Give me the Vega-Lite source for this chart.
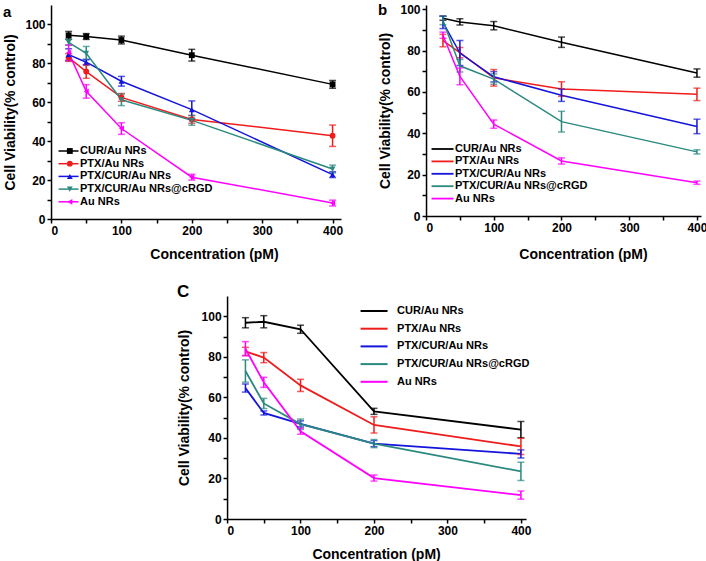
{
 "$schema": "https://vega.github.io/schema/vega-lite/v6.json",
 "background": "white",
 "padding": {"left": 3, "top": 3, "right": 0, "bottom": 0},
 "spacing": 22,
 "center": true,
 "resolve": {"scale": {"color": "independent", "shape": "independent"}, "legend": {"color": "independent", "shape": "independent"}},
 "config": {
  "font": "Liberation Sans",
  "view": {"stroke": null},
  "axis": {"domainColor": "black", "domainWidth": 1.5, "tickColor": "black", "tickWidth": 1.5, "tickSize": 4, "labelFont": "Liberation Sans", "labelFontWeight": "bold", "labelFontSize": 12, "labelColor": "black", "labelPadding": 2, "titleFont": "Liberation Sans", "titleFontWeight": "bold", "titleFontSize": 14, "titleColor": "black", "grid": false},
  "legend": {"padding": 0, "labelFont": "Liberation Sans", "labelFontWeight": "bold", "labelFontSize": 11, "labelColor": "black", "labelLimit": 300},
  "title": {"font": "Liberation Sans", "fontWeight": "bold", "color": "black", "fontSize": 15}
 },
 "datasets": {
  "a": [
   {"s": "CUR/Au NRs", "x": 25, "v": 94.4, "e": 2}, {"s": "CUR/Au NRs", "x": 50, "v": 93.8, "e": 1.5}, {"s": "CUR/Au NRs", "x": 100, "v": 92, "e": 2}, {"s": "CUR/Au NRs", "x": 200, "v": 84.2, "e": 3}, {"s": "CUR/Au NRs", "x": 400, "v": 69.2, "e": 2},
   {"s": "PTX/Au NRs", "x": 25, "v": 83, "e": 2}, {"s": "PTX/Au NRs", "x": 50, "v": 75.8, "e": 3.5}, {"s": "PTX/Au NRs", "x": 100, "v": 62.5, "e": 2}, {"s": "PTX/Au NRs", "x": 200, "v": 51.2, "e": 2}, {"s": "PTX/Au NRs", "x": 400, "v": 42.8, "e": 5.5},
   {"s": "PTX/CUR/Au NRs", "x": 25, "v": 84.5, "e": 3}, {"s": "PTX/CUR/Au NRs", "x": 50, "v": 80.6, "e": 1.5}, {"s": "PTX/CUR/Au NRs", "x": 100, "v": 70.8, "e": 2.5}, {"s": "PTX/CUR/Au NRs", "x": 200, "v": 56.2, "e": 4.5}, {"s": "PTX/CUR/Au NRs", "x": 400, "v": 22.8, "e": 1.5},
   {"s": "PTX/CUR/Au NRs@cRGD", "x": 25, "v": 90.8, "e": 1.5}, {"s": "PTX/CUR/Au NRs@cRGD", "x": 50, "v": 85.2, "e": 3.5}, {"s": "PTX/CUR/Au NRs@cRGD", "x": 100, "v": 61.3, "e": 3}, {"s": "PTX/CUR/Au NRs@cRGD", "x": 200, "v": 50.7, "e": 2.5}, {"s": "PTX/CUR/Au NRs@cRGD", "x": 400, "v": 25.7, "e": 2},
   {"s": "Au NRs", "x": 25, "v": 85.5, "e": 4}, {"s": "Au NRs", "x": 50, "v": 65.6, "e": 3.5}, {"s": "Au NRs", "x": 100, "v": 46.5, "e": 3}, {"s": "Au NRs", "x": 200, "v": 21.5, "e": 1.5}, {"s": "Au NRs", "x": 400, "v": 8.2, "e": 1.5}
  ],
  "b": [
   {"s": "CUR/Au NRs", "x": 25, "v": 95.6, "e": 1}, {"s": "CUR/Au NRs", "x": 50, "v": 93.8, "e": 1.5}, {"s": "CUR/Au NRs", "x": 100, "v": 92, "e": 2}, {"s": "CUR/Au NRs", "x": 200, "v": 84, "e": 2.5}, {"s": "CUR/Au NRs", "x": 400, "v": 69.1, "e": 2},
   {"s": "PTX/Au NRs", "x": 25, "v": 84.8, "e": 3}, {"s": "PTX/Au NRs", "x": 50, "v": 79, "e": 2.5}, {"s": "PTX/Au NRs", "x": 100, "v": 66.8, "e": 4}, {"s": "PTX/Au NRs", "x": 200, "v": 61.4, "e": 3.5}, {"s": "PTX/Au NRs", "x": 400, "v": 58.8, "e": 3},
   {"s": "PTX/CUR/Au NRs", "x": 25, "v": 93.6, "e": 3}, {"s": "PTX/CUR/Au NRs", "x": 50, "v": 78.8, "e": 6}, {"s": "PTX/CUR/Au NRs", "x": 100, "v": 67.3, "e": 2.5}, {"s": "PTX/CUR/Au NRs", "x": 200, "v": 58.4, "e": 3}, {"s": "PTX/CUR/Au NRs", "x": 400, "v": 43.3, "e": 3.5},
   {"s": "PTX/CUR/Au NRs@cRGD", "x": 25, "v": 94.5, "e": 2}, {"s": "PTX/CUR/Au NRs@cRGD", "x": 50, "v": 72.6, "e": 3}, {"s": "PTX/CUR/Au NRs@cRGD", "x": 100, "v": 66.2, "e": 2.5}, {"s": "PTX/CUR/Au NRs@cRGD", "x": 200, "v": 45.6, "e": 5}, {"s": "PTX/CUR/Au NRs@cRGD", "x": 400, "v": 31, "e": 1},
   {"s": "Au NRs", "x": 25, "v": 87.4, "e": 1.5}, {"s": "Au NRs", "x": 50, "v": 67.5, "e": 4}, {"s": "Au NRs", "x": 100, "v": 44.4, "e": 2}, {"s": "Au NRs", "x": 200, "v": 26.6, "e": 1.5}, {"s": "Au NRs", "x": 400, "v": 16.1, "e": 0.8}
  ],
  "c": [
   {"s": "CUR/Au NRs", "x": 25, "v": 96.8, "e": 2.5}, {"s": "CUR/Au NRs", "x": 50, "v": 97.3, "e": 3}, {"s": "CUR/Au NRs", "x": 100, "v": 93.6, "e": 2}, {"s": "CUR/Au NRs", "x": 200, "v": 53.1, "e": 1.5}, {"s": "CUR/Au NRs", "x": 400, "v": 44.1, "e": 4},
   {"s": "PTX/Au NRs", "x": 25, "v": 82.7, "e": 2}, {"s": "PTX/Au NRs", "x": 50, "v": 79.6, "e": 2.5}, {"s": "PTX/Au NRs", "x": 100, "v": 65.9, "e": 3}, {"s": "PTX/Au NRs", "x": 200, "v": 46.4, "e": 4}, {"s": "PTX/Au NRs", "x": 400, "v": 35.8, "e": 4},
   {"s": "PTX/CUR/Au NRs", "x": 25, "v": 64.6, "e": 2}, {"s": "PTX/CUR/Au NRs", "x": 50, "v": 52.3, "e": 1}, {"s": "PTX/CUR/Au NRs", "x": 100, "v": 46.9, "e": 1.5}, {"s": "PTX/CUR/Au NRs", "x": 200, "v": 37.2, "e": 1.5}, {"s": "PTX/CUR/Au NRs", "x": 400, "v": 32.1, "e": 2},
   {"s": "PTX/CUR/Au NRs@cRGD", "x": 25, "v": 73, "e": 5.5}, {"s": "PTX/CUR/Au NRs@cRGD", "x": 50, "v": 57, "e": 2.5}, {"s": "PTX/CUR/Au NRs@cRGD", "x": 100, "v": 46.8, "e": 2.5}, {"s": "PTX/CUR/Au NRs@cRGD", "x": 200, "v": 37.2, "e": 2}, {"s": "PTX/CUR/Au NRs@cRGD", "x": 400, "v": 23.5, "e": 4.5},
   {"s": "Au NRs", "x": 25, "v": 84, "e": 3.5}, {"s": "Au NRs", "x": 50, "v": 67.4, "e": 2.5}, {"s": "Au NRs", "x": 100, "v": 43.3, "e": 1.5}, {"s": "Au NRs", "x": 200, "v": 20.2, "e": 1.5}, {"s": "Au NRs", "x": 400, "v": 11.8, "e": 2}
  ]
 },
 "vconcat": [
  {
   "spacing": 34,
   "resolve": {"scale": {"color": "independent", "shape": "independent"}, "legend": {"color": "independent", "shape": "independent"}},
   "hconcat": [
    {
     "width": 290, "height": 214,
     "data": {"name": "a"},
     "title": {"text": "a", "anchor": "start", "frame": "bounds", "offset": -15},
     "encoding": {
      "x": {"field": "x", "type": "quantitative", "scale": {"domain": [0, 412], "nice": false}, "axis": {"values": [0, 50, 100, 150, 200, 250, 300, 350, 400], "labelExpr": "datum.value % 100 === 0 ? datum.label : ''", "title": "Concentration (pM)", "titlePadding": 11, "titleX": 163}},
      "y": {"field": "v", "type": "quantitative", "scale": {"domain": [0, 110], "nice": false}, "axis": {"values": [0, 10, 20, 30, 40, 50, 60, 70, 80, 90, 100], "labelExpr": "datum.value % 20 === 0 ? datum.label : ''", "title": "Cell Viability(% control)", "titlePadding": 8}}
     },
     "layer": [
      {"mark": {"type": "line", "strokeWidth": 1.5}, "encoding": {"color": {"field": "s", "type": "nominal", "scale": {"domain": ["CUR/Au NRs", "PTX/Au NRs", "PTX/CUR/Au NRs", "PTX/CUR/Au NRs@cRGD", "Au NRs"], "range": ["#000000", "#ee1c1c", "#1414dc", "#2b8a80", "#ff00ff"]}, "legend": {"orient": "none", "legendX": 12, "legendY": 140.5, "title": null, "symbolType": "M-2.5,0H2.5", "symbolSize": 64, "symbolStrokeWidth": 1.5, "labelOffset": 6, "rowPadding": 0.7}}}},
      {"mark": {"type": "errorbar", "ticks": {"size": 7}, "thickness": 1.5}, "encoding": {"yError": {"field": "e"}, "color": {"field": "s", "type": "nominal", "legend": null}}},
      {"mark": {"type": "point", "filled": true, "size": 34, "opacity": 1}, "encoding": {
        "color": {"field": "s", "type": "nominal", "legend": {"orient": "none", "legendX": 13.3, "legendY": 140.5, "title": null, "symbolSize": 34, "labelExpr": "''", "rowPadding": 0.7}},
        "shape": {"field": "s", "type": "nominal", "scale": {"domain": ["CUR/Au NRs", "PTX/Au NRs", "PTX/CUR/Au NRs", "PTX/CUR/Au NRs@cRGD", "Au NRs"], "range": ["square", "circle", "triangle-up", "triangle-down", "triangle-left"]}, "legend": {"orient": "none", "legendX": 13.3, "legendY": 140.5, "title": null, "symbolSize": 34, "labelExpr": "''", "rowPadding": 0.7}}}}
     ],
     "resolve": {"legend": {"color": "independent", "shape": "independent"}}
    },
    {
     "width": 275, "height": 211,
     "data": {"name": "b"},
     "title": {"text": "b", "anchor": "start", "frame": "bounds", "offset": -15},
     "encoding": {
      "x": {"field": "x", "type": "quantitative", "scale": {"domain": [0, 406], "nice": false}, "axis": {"values": [0, 50, 100, 150, 200, 250, 300, 350, 400], "labelExpr": "datum.value % 100 === 0 ? datum.label : ''", "title": "Concentration (pM)", "titlePadding": 14, "titleX": 157}},
      "y": {"field": "v", "type": "quantitative", "scale": {"domain": [0, 102], "nice": false}, "axis": {"values": [0, 10, 20, 30, 40, 50, 60, 70, 80, 90, 100], "labelExpr": "datum.value % 20 === 0 ? datum.label : ''", "title": "Cell Viability(% control)", "titlePadding": 8}}
     },
     "layer": [
      {"mark": {"type": "line", "strokeWidth": 1.5}, "encoding": {"color": {"field": "s", "type": "nominal", "scale": {"domain": ["CUR/Au NRs", "PTX/Au NRs", "PTX/CUR/Au NRs", "PTX/CUR/Au NRs@cRGD", "Au NRs"], "range": ["#000000", "#ee1c1c", "#1414dc", "#2b8a80", "#ff00ff"]}, "legend": {"orient": "none", "legendX": 11, "legendY": 138.5, "title": null, "symbolType": "M-2.75,0H2.75", "symbolSize": 64, "symbolStrokeWidth": 1.8, "labelOffset": 7, "rowPadding": 0.4}}}},
      {"mark": {"type": "errorbar", "ticks": {"size": 7}, "thickness": 1.5}, "encoding": {"yError": {"field": "e"}, "color": {"field": "s", "type": "nominal", "legend": null}}}
     ]
    }
   ]
  },
  {
   "width": 299, "height": 223,
   "data": {"name": "c"},
   "title": {"text": "C", "anchor": "start", "frame": "bounds", "offset": -5, "fontSize": 17},
   "encoding": {
    "x": {"field": "x", "type": "quantitative", "scale": {"domain": [0, 407], "nice": false}, "axis": {"values": [0, 50, 100, 150, 200, 250, 300, 350, 400], "labelExpr": "datum.value % 100 === 0 ? datum.label : ''", "title": "Concentration (pM)", "titlePadding": 11, "titleX": 149}},
    "y": {"field": "v", "type": "quantitative", "scale": {"domain": [0, 110], "nice": false}, "axis": {"values": [0, 10, 20, 30, 40, 50, 60, 70, 80, 90, 100], "labelExpr": "datum.value % 20 === 0 ? datum.label : ''", "title": "Cell Viability(% control)", "titlePadding": 10}}
   },
   "layer": [
    {"mark": {"type": "line", "strokeWidth": 1.8}, "encoding": {"color": {"field": "s", "type": "nominal", "scale": {"domain": ["CUR/Au NRs", "PTX/Au NRs", "PTX/CUR/Au NRs", "PTX/CUR/Au NRs@cRGD", "Au NRs"], "range": ["#000000", "#ee1c1c", "#1414dc", "#2b8a80", "#ff00ff"]}, "legend": {"orient": "none", "legendX": 141.5, "legendY": 9.5, "title": null, "symbolType": "M-3.375,0H3.375", "symbolSize": 64, "symbolStrokeWidth": 2, "labelOffset": 17.5, "rowPadding": 5.7}}}},
    {"mark": {"type": "errorbar", "ticks": {"size": 7}, "thickness": 1.5}, "encoding": {"yError": {"field": "e"}, "color": {"field": "s", "type": "nominal", "legend": null}}}
   ]
  }
 ]
}
